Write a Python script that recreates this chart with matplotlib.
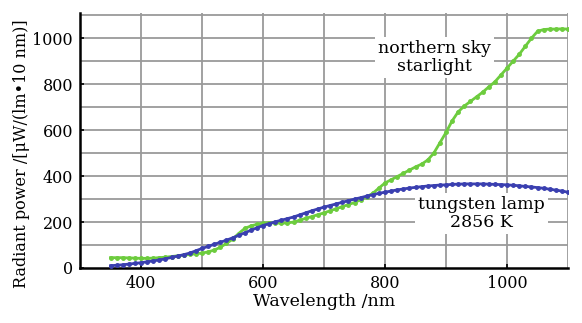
import matplotlib
matplotlib.use("Agg")
import matplotlib.pyplot as plt

wavelength = list(range(350, 1101, 10))
tungsten = [10, 12, 14, 17, 20, 23, 27, 31, 35, 40, 46, 52, 58, 65, 75, 85, 94, 103, 112, 121,
            131, 142, 153, 164, 175, 185, 193, 201, 208, 215, 222, 231, 240, 249, 257, 265, 272,
            279, 286, 293, 300, 306, 313, 319, 325, 330, 335, 340, 344, 348, 351, 354, 357, 359,
            361, 362, 364, 365, 366, 366, 366, 366, 365, 364, 363, 362, 360, 358, 355, 353, 350,
            347, 343, 339, 335, 330]
starlight = [45, 45, 45, 44, 43, 42, 42, 43, 45, 47, 50, 53, 56, 59, 62, 65, 70, 78, 90, 107,
             125, 150, 172, 183, 190, 195, 197, 196, 195, 196, 200, 208, 216, 224, 232, 240, 249,
             258, 267, 276, 285, 297, 310, 325, 348, 370, 384, 398, 412, 426, 440, 452, 470, 500,
             545, 590, 640, 680, 705, 725, 745, 765, 788, 810, 840, 870, 900, 930, 965, 1000, 1030,
             1038, 1040, 1040, 1041, 1040]
xticks = [400, 600, 800, 1000]
yticks = [0, 200, 400, 600, 800, 1000]

plt.rcParams['font.family'] = ['DejaVu Serif']
fig = plt.figure(figsize=(5.82, 3.23), dpi=100)
ax = fig.add_axes([80/582, 1-268/323, 488/582, 255/323])

ax.set_xlim(300, 1100)
ax.set_ylim(0, 1110)
for x in range(300, 1101, 100):
    ax.axvline(x, color='#9a9a9a', lw=1.3, zorder=1)
for y in range(100, 1101, 100):
    ax.axhline(y, color='#9a9a9a', lw=1.3, zorder=1)

ax.plot(wavelength, starlight, color='#6dcc3e', lw=2, marker='o', ms=2.5, zorder=3)
ax.plot(wavelength, tungsten, color='#3a3fb0', lw=2, marker='o', ms=2.5, zorder=4)

bbox = dict(facecolor='white', edgecolor='none', pad=2)
ax.text(881, 917, 'northern sky\nstarlight', ha='center', va='center', fontsize=12.5,
        linespacing=1.1, bbox=bbox, zorder=5)
ax.text(958, 236, 'tungsten lamp\n2856 K', ha='center', va='center', fontsize=12.5,
        linespacing=1.1, bbox=bbox, zorder=5)

ax.set_xticks(xticks)
ax.set_yticks(yticks)
ax.tick_params(labelsize=11.5, length=3, direction='in', width=1.2, pad=5)
for s in ['top', 'right']:
    ax.spines[s].set_visible(False)
for s in ['left', 'bottom']:
    ax.spines[s].set_linewidth(1.8)
ax.set_xlabel('Wavelength /nm', fontsize=12.5, labelpad=1)
ax.set_ylabel('Radiant power /[μW/(lm•10 nm)]', fontsize=11.5)
ax.yaxis.set_label_coords(-50/488, 0.45)

fig.savefig('out.png', dpi=100)
